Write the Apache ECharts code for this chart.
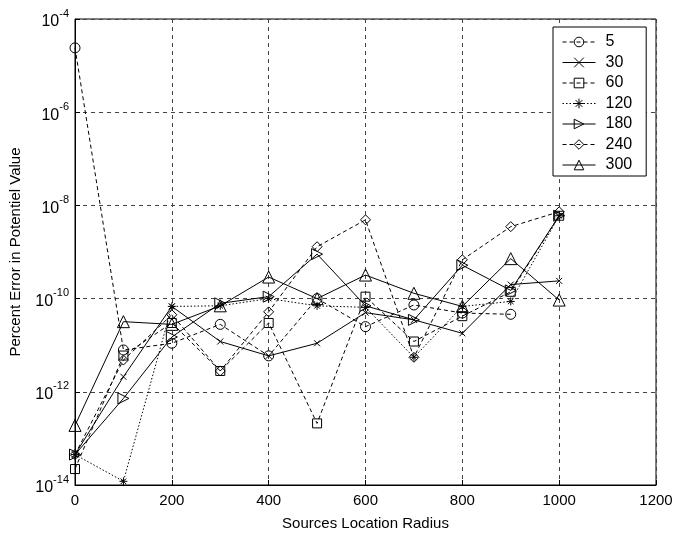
<!DOCTYPE html>
<html><head><meta charset="utf-8">
<script src="https://cdn.jsdelivr.net/npm/echarts@6/dist/echarts.min.js"></script>
<style>html,body{margin:0;padding:0;background:#fff}#c{width:678px;height:537px}</style>
</head><body><div id="c"></div>
<script>
const xValues = [0,100,200,300,400,500,600,700,800,900,1000];
const seriesNames = ['5','30','60','120','180','240','300'];
const s5   = [2.4e-5, 7.9e-12, 1.1e-11, 2.8e-11, 5.9e-12, 1.0e-10, 2.5e-11, 7.3e-11, 4.9e-11, 4.6e-11, null];
const s30  = [4.5e-14, 2.1e-12, 6.8e-11, 1.2e-11, 5.9e-12, 1.1e-11, 5.0e-11, 3.5e-11, 1.8e-11, 2.0e-10, 2.4e-10];
const s60  = [2.2e-14, 6.0e-12, 3.0e-11, 2.8e-12, 3.0e-11, 2.1e-13, 1.1e-10, 1.2e-11, 4.2e-11, 1.4e-10, 6.0e-9];
const s120 = [4.5e-14, 1.2e-14, 6.8e-11, 7.0e-11, 1.0e-10, 7.0e-11, 6.5e-11, 5.5e-12, 6.8e-11, 8.7e-11, 6.0e-9];
const s180 = [4.5e-14, 7.2e-13, 1.5e-11, 7.9e-11, 1.1e-10, 9.0e-10, 7.0e-11, 3.5e-11, 5.2e-10, 1.5e-10, 6.0e-9];
const s240 = [4.5e-14, 4.8e-12, 4.5e-11, 2.8e-12, 5.2e-11, 1.3e-9, 4.9e-9, 5.5e-12, 6.8e-10, 3.5e-9, 7.3e-9];
const s300 = [1.9e-13, 3.2e-11, 2.8e-11, 7.0e-11, 2.9e-10, 1.0e-10, 3.2e-10, 1.3e-10, 6.8e-11, 7.2e-10, 9.3e-11];

const allData = [s5, s30, s60, s120, s180, s240, s300];
const symbols = [
  'circle',
  'path://M0,0 L10,10 M10,0 L0,10',
  'rect',
  'path://M5,0 L5,10 M0,5 L10,5 M1.5,1.5 L8.5,8.5 M8.5,1.5 L1.5,8.5',
  'path://M0,0 L10,5 L0,10 Z',
  'path://M5,0 L10,5 L5,10 L0,5 Z',
  'triangle'
];
const sizes = [10, 6, 9, 8, 11, 10, 12];
const lineTypes = ['dashed','solid','dashed','dotted','solid','dashed','solid'];
const FONT = '"Liberation Sans", Arial, sans-serif';

const series = seriesNames.map((n, i) => ({
  name: n,
  type: 'line',
  data: xValues.map((x, j) => [x, allData[i][j]]),
  symbol: symbols[i],
  symbolSize: sizes[i],
  showSymbol: true,
  connectNulls: false,
  itemStyle: {color: 'rgba(255,255,255,0)', borderColor: '#000', borderWidth: 1},
  lineStyle: {color: '#000', width: 1, type: lineTypes[i] === 'dashed' ? [4,3] : (lineTypes[i] === 'dotted' ? [1.5,2] : 'solid')},
  emphasis: {disabled: true},
  animation: false
}));

const chart = echarts.init(document.getElementById('c'));
chart.setOption({
  animation: false,
  backgroundColor: '#fff',
  textStyle: {fontFamily: FONT},
  grid: {left: 68, top: 19, right: 22, bottom: 52, show: true, borderColor: '#000', borderWidth: 1, backgroundColor: '#fff'},
  legend: {
    orient: 'vertical', left: 553, top: 27,
    backgroundColor: '#fff', borderColor: '#000', borderWidth: 1,
    padding: [7, 14, 3, 9],
    itemWidth: 33, itemHeight: 12, itemGap: 4.5,
    itemStyle: {borderWidth: 1, borderColor: '#000', color: 'rgba(255,255,255,0)'},
    lineStyle: {width: 1, color: '#000'},
    textStyle: {fontSize: 16, lineHeight: 14, color: '#000', fontFamily: FONT, padding: [0, 0, 0, 5]},
    data: seriesNames
  },
  xAxis: {
    type: 'value', min: 0, max: 1200, interval: 200,
    name: 'Sources Location Radius', nameLocation: 'middle', nameGap: 31,
    nameTextStyle: {fontSize: 15, color: '#000', fontFamily: FONT},
    axisLine: {show: true, lineStyle: {color: '#000'}},
    axisTick: {show: true, inside: true, length: 5, lineStyle: {color: '#000'}},
    axisLabel: {fontSize: 15, color: '#000', margin: 8, fontFamily: FONT, formatter: v => String(v)},
    splitLine: {show: true, lineStyle: {color: '#444', type: [4,4], width: 1}}
  },
  yAxis: {
    type: 'log', logBase: 10, min: 1e-14, max: 1e-4, interval: 2,
    name: 'Percent Error in Potentiel Value', nameLocation: 'middle', nameGap: 52,
    nameTextStyle: {fontSize: 15, color: '#000', fontFamily: FONT},
    axisLine: {show: true, lineStyle: {color: '#000'}},
    axisTick: {show: true, inside: true, length: 5, lineStyle: {color: '#000'}},
    axisLabel: {
      margin: 6, color: '#000',
      formatter: v => '{b|10}{s|' + Math.round(Math.log10(v)) + '}',
      rich: {
        b: {fontSize: 16, fontFamily: FONT, color: '#000', verticalAlign: 'bottom', lineHeight: 16},
        s: {fontSize: 11, fontFamily: FONT, color: '#000', verticalAlign: 'top', lineHeight: 22}
      }
    },
    splitLine: {show: true, lineStyle: {color: '#444', type: [4,4], width: 1}}
  },
  series: series
});
</script>
</body></html>
